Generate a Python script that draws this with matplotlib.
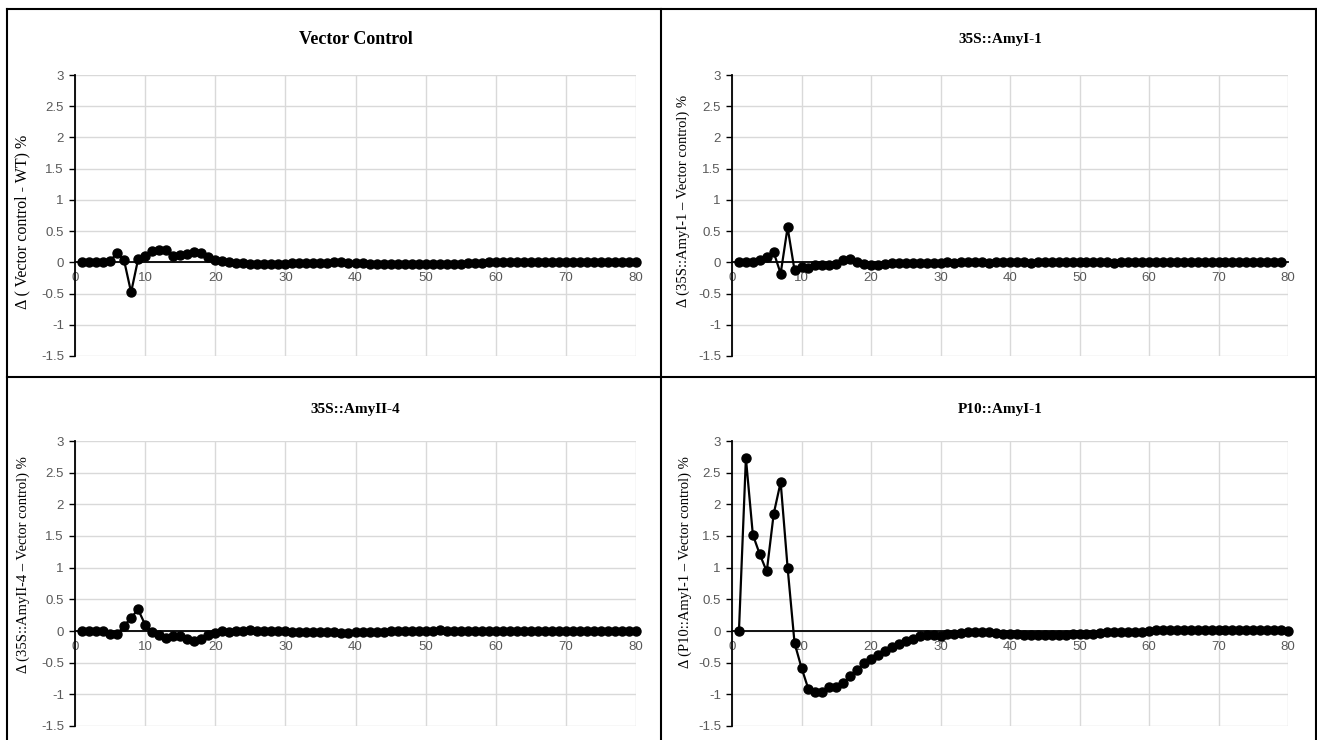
import matplotlib.pyplot as plt
from matplotlib.lines import Line2D
from matplotlib.ticker import MultipleLocator

W, H = 1317, 740

titles = ['Vector Control', '35S::AmyI-1', '35S::AmyII-4', 'P10::AmyI-1']
ylabels = ['\u0394 ( Vector control - WT) %',
           '\u0394 (35S::AmyI-1 \u2013 Vector control) %',
           '\u0394 (35S::AmyII-4 \u2013 Vector control) %',
           '\u0394 (P10::AmyI-1 \u2013 Vector control) %']

# values, position 1..n
vector_wt = [0, 0, 0, 0, 0.02, 0.15, 0.03, -0.48, 0.05, 0.1,
             0.18, 0.2, 0.2, 0.1, 0.11, 0.14, 0.17, 0.15, 0.08, 0.04,
             0.02, 0.0, -0.01, -0.01, -0.02, -0.02, -0.02, -0.02, -0.02, -0.02,
             -0.01, -0.01, -0.01, -0.01, -0.01, -0.01, 0.0, 0.0, -0.01, -0.01,
             -0.01, -0.02, -0.02, -0.02, -0.02, -0.02, -0.02, -0.02, -0.02, -0.02,
             -0.02, -0.02, -0.02, -0.02, -0.02, -0.01, -0.01, -0.01, 0.0, 0.0,
             0, 0, 0, 0, 0, 0, 0, 0, 0, 0,
             0, 0, 0, 0, 0, 0, 0, 0, 0, 0]
amyI1 = [0, 0, 0, 0.04, 0.08, 0.16, -0.18, 0.56, -0.13, -0.07,
         -0.09, -0.05, -0.04, -0.04, -0.02, 0.04, 0.05, 0.0, -0.03, -0.04,
         -0.04, -0.02, -0.01, -0.01, -0.01, -0.01, -0.01, -0.01, -0.01, -0.01,
         0.0, -0.01, 0.0, 0.01, 0.0, 0.0, -0.01, 0.0, 0.0, 0.0,
         0, 0, -0.01, 0, 0, 0, 0, 0, 0, 0,
         0, 0, 0, 0, -0.01, 0, 0, 0, 0, 0,
         0, 0, 0, 0, 0, 0, 0, 0, 0, 0,
         0, 0, 0.01, 0, 0, 0, 0.01, 0, 0]
amyII4 = [0, 0, 0, 0, -0.04, -0.05, 0.08, 0.21, 0.34, 0.1,
          -0.02, -0.07, -0.11, -0.08, -0.08, -0.13, -0.15, -0.12, -0.07, -0.03,
          0.0, -0.01, 0.0, 0.0, 0.02, 0.0, 0.0, 0.0, 0.0, 0.0,
          -0.01, -0.01, -0.01, -0.01, -0.01, -0.02, -0.02, -0.03, -0.03, -0.02,
          -0.01, -0.01, -0.01, -0.01, 0.0, 0.0, 0.0, 0.0, 0.0, 0.0,
          0.0, 0.01, 0.0, 0.0, 0, 0, 0, 0, 0, 0,
          0, 0, 0, 0, 0, 0, 0, 0, 0, 0,
          0, 0, 0, 0, 0, 0, 0, 0, 0, 0]
p10_amyI1 = [0, 2.73, 1.52, 1.21, 0.94, 1.85, 2.35, 1.0, -0.19, -0.58,
             -0.92, -0.97, -0.96, -0.88, -0.88, -0.82, -0.71, -0.61, -0.51, -0.44,
             -0.38, -0.32, -0.25, -0.2, -0.16, -0.12, -0.08, -0.06, -0.06, -0.08,
             -0.05, -0.04, -0.03, -0.02, -0.01, -0.02, -0.02, -0.03, -0.04, -0.05,
             -0.05, -0.06, -0.06, -0.07, -0.07, -0.07, -0.06, -0.06, -0.05, -0.05,
             -0.04, -0.04, -0.03, -0.02, -0.02, -0.01, -0.01, -0.01, -0.01, 0.0,
             0.01, 0.01, 0.01, 0.01, 0.01, 0.01, 0.01, 0.01, 0.01, 0.01,
             0.01, 0.01, 0.01, 0.01, 0.01, 0.01, 0.01, 0.01, 0.01, 0.0]
series = [vector_wt, amyI1, amyII4, p10_amyI1]

# axes boxes in pixels: left, right, top, bottom
boxes = [(75, 636, 75, 356), (732, 1288, 75, 356),
         (75, 636, 441, 726), (732, 1288, 441, 726)]
title_y = [39, 39, 409, 409]
title_x = [356, 1000, 355, 1000]
title_size = [13, 11, 11, 11]
ylab_x = [22, 683, 23, 685]
ylab_y = [222, 201, 565, 562]
ylab_size = [11.5, 10.5, 10.5, 10.5]

fig = plt.figure(figsize=(W / 100, H / 100), dpi=100)

for i in range(4):
    l, r, t, b = boxes[i]
    ax = fig.add_axes([l / W, 1 - b / H, (r - l) / W, (b - t) / H])
    y = series[i]
    x = list(range(1, len(y) + 1))
    ax.plot(x, y, color='black', lw=1.6, marker='o', ms=6.5, zorder=3, clip_on=False)
    ax.set_xlim(0, 80)
    ax.set_ylim(-1.5, 3)
    ax.xaxis.set_major_locator(MultipleLocator(10))
    ax.set_yticks([-1.5, -1, -0.5, 0, 0.5, 1, 1.5, 2, 2.5, 3])
    ax.set_yticklabels(['-1.5', '-1', '-0.5', '0', '0.5', '1', '1.5', '2', '2.5', '3'])
    ax.grid(True, color='#d9d9d9', lw=1.0, zorder=0)
    ax.set_axisbelow(True)
    for s in ['top', 'right']:
        ax.spines[s].set_visible(False)
    ax.spines['bottom'].set_position(('data', 0))
    ax.spines['bottom'].set_linewidth(1.3)
    ax.spines['left'].set_linewidth(1.3)
    ax.tick_params(axis='x', length=0, pad=7, labelsize=9.5, labelcolor='#595959')
    ax.tick_params(axis='y', length=4, width=1.0, direction='out', pad=4,
                   labelsize=9.5, labelcolor='#595959')
    for lab in ax.get_xticklabels() + ax.get_yticklabels():
        lab.set_family('Liberation Sans')
    ax.set_ylabel(ylabels[i], family='Liberation Serif', fontsize=ylab_size[i], va='center')
    ax.yaxis.set_label_coords((ylab_x[i] - l) / (r - l), (b - ylab_y[i]) / (b - t))
    fig.text(title_x[i] / W, 1 - title_y[i] / H, titles[i], ha='center', va='center',
             family='Liberation Serif', fontweight='bold', fontsize=title_size[i])

# panel borders
lk = dict(color='black', lw=1.5, transform=fig.transFigure)
for (x0, y0, x1, y1) in [(7, 9, 1316, 9), (7, 9, 7, 740), (1316, 9, 1316, 740),
                         (661, 9, 661, 740), (7, 377, 1316, 377)]:
    fig.add_artist(Line2D([x0 / W, x1 / W], [1 - y0 / H, 1 - y1 / H], **lk))

plt.savefig('out.png', dpi=100)
